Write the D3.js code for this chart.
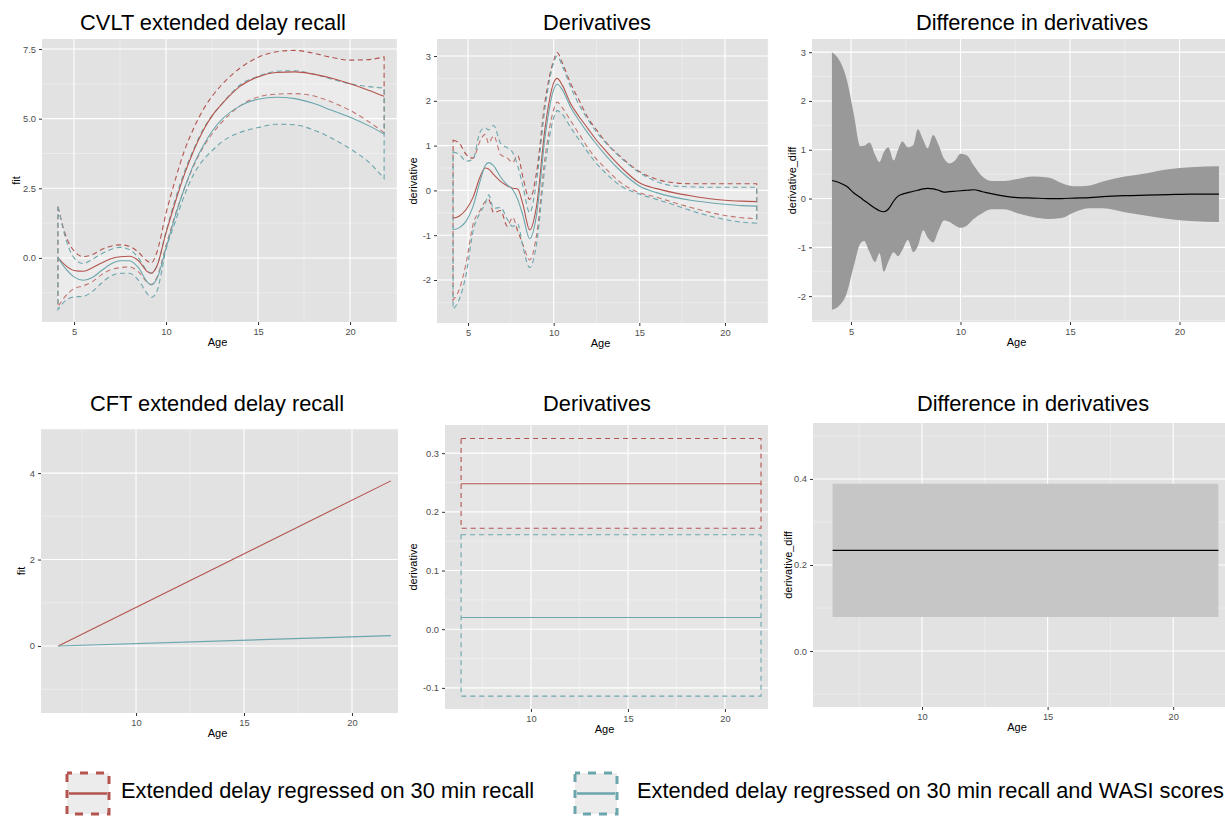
<!DOCTYPE html>
<html>
<head>
<meta charset="utf-8">
<script src="https://cdn.jsdelivr.net/npm/d3@7"></script>
<style>
  body { margin: 0; background: #fff; }
  text { font-family: "Liberation Sans", Arial, sans-serif; }
</style>
</head>
<body>
<script>
// ---- CVLT fit (top left) ----
var age1 = [4.13, 4.5, 5, 5.5, 6, 6.5, 7, 7.5, 8, 8.5, 9, 9.2, 9.5, 10, 10.5, 11, 11.5, 12, 12.5, 13, 14, 15, 16, 17, 18, 19, 20, 21, 21.85];
var fit1Red  = [0.0, -0.25, -0.45, -0.48, -0.35, -0.18, -0.03, 0.04, 0.06, -0.1, -0.5, -0.55, -0.3, 0.9, 2.0, 3.0, 3.85, 4.55, 5.1, 5.5, 6.15, 6.5, 6.66, 6.68, 6.6, 6.45, 6.25, 6.02, 5.8];
var up1Red   = [1.84, 0.9, 0.25, 0.05, 0.12, 0.3, 0.42, 0.47, 0.42, 0.2, -0.12, -0.18, 0.2, 1.6, 2.8, 3.85, 4.65, 5.3, 5.8, 6.2, 6.8, 7.2, 7.4, 7.45, 7.35, 7.2, 7.1, 7.12, 7.22];
var lo1Red   = [-1.75, -1.4, -1.1, -1.0, -0.85, -0.6, -0.42, -0.35, -0.32, -0.5, -0.88, -0.95, -0.7, 0.45, 1.55, 2.5, 3.3, 3.95, 4.45, 4.85, 5.45, 5.78, 5.88, 5.9, 5.82, 5.6, 5.3, 4.9, 4.5];
var fit1Teal = [0.0, -0.35, -0.68, -0.8, -0.7, -0.45, -0.22, -0.1, -0.1, -0.35, -0.88, -0.97, -0.75, 0.35, 1.5, 2.5, 3.35, 4.0, 4.55, 4.95, 5.45, 5.7, 5.77, 5.72, 5.55, 5.3, 5.05, 4.75, 4.45];
var up1Teal  = [1.84, 0.8, 0.0, -0.2, -0.05, 0.15, 0.3, 0.38, 0.3, 0.0, -0.48, -0.55, -0.3, 0.95, 2.1, 3.1, 3.9, 4.6, 5.1, 5.5, 6.2, 6.52, 6.7, 6.72, 6.6, 6.42, 6.25, 6.15, 6.1];
var lo1Teal  = [-1.85, -1.55, -1.4, -1.38, -1.2, -0.9, -0.65, -0.55, -0.55, -0.8, -1.3, -1.42, -1.2, 0.3, 1.3, 2.25, 3.0, 3.5, 3.85, 4.15, 4.5, 4.68, 4.8, 4.78, 4.6, 4.3, 3.92, 3.45, 2.85];

// ---- CVLT derivatives (top middle) ----
var age2 = [4.13, 4.5, 4.9, 5.3, 5.7, 6.0, 6.2, 6.5, 6.9, 7.3, 7.6, 7.9, 8.2, 8.6, 9.0, 9.5, 10.0, 10.2, 10.5, 11, 11.5, 12, 12.5, 13, 14, 15, 16, 17, 18, 19, 20, 21, 21.85];
var fit2Red  = [-0.62, -0.57, -0.42, -0.15, 0.3, 0.5, 0.48, 0.35, 0.2, 0.1, 0.05, 0.03, -0.3, -0.88, -0.35, 1.4, 2.4, 2.5, 2.35, 1.93, 1.64, 1.38, 1.12, 0.9, 0.49, 0.17, 0.04, -0.05, -0.12, -0.18, -0.22, -0.24, -0.25];
var up2Red   = [1.12, 1.05, 0.8, 0.72, 1.1, 1.25, 1.05, 1.22, 0.8, 0.72, 0.62, 0.78, 0.3, -0.2, 0.4, 2.0, 2.9, 3.08, 2.85, 2.38, 2.0, 1.62, 1.35, 1.1, 0.72, 0.42, 0.25, 0.17, 0.15, 0.15, 0.15, 0.15, 0.15];
var lo2Red   = [-2.45, -2.2, -1.6, -0.75, -0.45, -0.25, -0.2, -0.5, -0.45, -0.8, -0.6, -0.9, -1.2, -1.55, -1.0, 0.75, 1.8, 1.97, 1.85, 1.55, 1.25, 0.95, 0.7, 0.5, 0.15, -0.05, -0.15, -0.27, -0.38, -0.48, -0.56, -0.61, -0.63];
var fit2Teal = [-0.88, -0.83, -0.68, -0.35, 0.2, 0.55, 0.62, 0.55, 0.3, 0.12, 0.02, -0.2, -0.55, -1.08, -0.55, 1.2, 2.25, 2.37, 2.25, 1.85, 1.55, 1.28, 1.03, 0.8, 0.4, 0.1, -0.05, -0.15, -0.22, -0.27, -0.31, -0.34, -0.35];
var up2Teal  = [0.86, 0.8, 0.65, 0.7, 1.3, 1.4, 1.35, 1.45, 1.05, 0.95, 0.85, 0.55, 0.1, -0.5, 0.2, 1.85, 2.85, 3.0, 2.78, 2.3, 1.9, 1.58, 1.3, 1.08, 0.7, 0.4, 0.2, 0.1, 0.08, 0.07, 0.07, 0.07, 0.07];
var lo2Teal  = [-2.65, -2.42, -1.85, -0.9, -0.5, -0.3, -0.1, -0.4, -0.38, -0.65, -0.8, -0.75, -1.25, -1.72, -1.2, 0.55, 1.62, 1.78, 1.7, 1.4, 1.12, 0.85, 0.6, 0.4, 0.08, -0.08, -0.2, -0.32, -0.45, -0.56, -0.65, -0.71, -0.73];

// ---- CVLT difference in derivatives (top right) ----
var age3 = [4.13, 4.45, 4.8, 5.12, 5.43, 5.6, 5.85, 6.1, 6.3, 6.5, 6.7, 6.95, 7.15, 7.35, 7.6, 7.85, 8.05, 8.3, 8.5, 8.75, 9.0, 9.25, 9.5, 9.75, 10.0, 10.3, 10.6, 11.0, 11.4, 12.0, 12.6, 13.3, 14.0, 14.6, 15.2, 15.9, 16.5, 17.5, 18.5, 19.5, 20.5, 21.8];
var fit3 = [0.37, 0.33, 0.25, 0.12, 0.02, -0.04, -0.12, -0.2, -0.25, -0.27, -0.22, -0.05, 0.05, 0.09, 0.12, 0.15, 0.17, 0.2, 0.21, 0.2, 0.17, 0.13, 0.14, 0.15, 0.16, 0.17, 0.18, 0.14, 0.1, 0.05, 0.02, 0.01, 0.0, 0.0, 0.01, 0.02, 0.04, 0.06, 0.07, 0.08, 0.09, 0.09];
var up3  = [3.0, 2.85, 2.45, 1.75, 1.07, 1.08, 1.15, 0.9, 0.75, 0.95, 1.05, 0.78, 1.0, 1.17, 1.05, 1.1, 1.42, 1.2, 1.03, 1.3, 1.1, 0.82, 0.72, 0.78, 0.92, 0.88, 0.68, 0.45, 0.36, 0.36, 0.4, 0.45, 0.43, 0.32, 0.25, 0.27, 0.35, 0.45, 0.52, 0.6, 0.64, 0.66];
var lo3  = [-2.28, -2.2, -1.95, -1.4, -0.92, -0.87, -1.1, -1.3, -1.12, -1.5, -1.3, -1.1, -1.18, -1.05, -0.85, -1.1, -0.98, -0.65, -0.8, -0.9, -0.65, -0.45, -0.48, -0.55, -0.6, -0.55, -0.42, -0.3, -0.22, -0.22, -0.3, -0.38, -0.42, -0.4, -0.28, -0.2, -0.2, -0.28, -0.35, -0.42, -0.46, -0.48];

// ---- CFT (bottom row) ----
var age4 = [6.4, 21.8];
var fit4Red = [0.0, 3.82];
var fit4Teal = [0.0, 0.24];

var age5 = [6.4, 21.86];
var fit5Red = [0.248, 0.248], up5Red = [0.325, 0.325], lo5Red = [0.172, 0.172];
var fit5Teal = [0.02, 0.02], up5Teal = [0.161, 0.161], lo5Teal = [-0.114, -0.114];

var age6 = [6.44, 21.8];
var fit6 = [0.234, 0.234], up6 = [0.389, 0.389], lo6 = [0.079, 0.079];

var legendLabels = ["Extended delay regressed on 30 min recall", "Extended delay regressed on 30 min recall and WASI scores"];

var RED = "#b3544e", TEAL = "#6ba6ac";

var svg = d3.select("body").append("svg")
    .attr("width", 1225)
    .attr("height", 816);
svg.append("rect").attr("width", 1225).attr("height", 816).attr("fill", "#fff");

var clipCount = 0;

// midpoints between major breaks, kept inside the panel
function minorBreaks(ticks, dom) {
  var step = ticks[1] - ticks[0], out = [];
  for (var i = -1; i < ticks.length; i++) {
    var v = ticks[0] + (i + 0.5) * step;
    if (v > dom[0] && v < dom[1]) out.push(v);
  }
  return out;
}

function makePanel(p) {
  var g = svg.append("g");
  var x = d3.scaleLinear().domain(p.xd).range([p.l, p.r]);
  var y = d3.scaleLinear().domain(p.yd).range([p.b, p.t]);

  g.append("rect")
    .attr("x", p.l).attr("y", p.t)
    .attr("width", p.r - p.l).attr("height", p.b - p.t)
    .attr("fill", "#e2e2e2");

  // grid
  g.selectAll(null).data(minorBreaks(p.xTicks, p.xd)).enter().append("line")
    .attr("x1", x).attr("x2", x).attr("y1", p.t).attr("y2", p.b)
    .attr("stroke", "#f1f1f1").attr("stroke-width", 0.6);
  g.selectAll(null).data(minorBreaks(p.yTicks, p.yd)).enter().append("line")
    .attr("y1", y).attr("y2", y).attr("x1", p.l).attr("x2", p.r)
    .attr("stroke", "#f1f1f1").attr("stroke-width", 0.6);
  g.selectAll(null).data(p.xTicks).enter().append("line")
    .attr("x1", x).attr("x2", x).attr("y1", p.t).attr("y2", p.b)
    .attr("stroke", "#fff").attr("stroke-width", 1.1);
  g.selectAll(null).data(p.yTicks).enter().append("line")
    .attr("y1", y).attr("y2", y).attr("x1", p.l).attr("x2", p.r)
    .attr("stroke", "#fff").attr("stroke-width", 1.1);

  var id = "clip" + (clipCount++);
  svg.append("clipPath").attr("id", id).append("rect")
    .attr("x", p.l).attr("y", p.t)
    .attr("width", p.r - p.l).attr("height", p.b - p.t);
  var plot = g.append("g").attr("clip-path", "url(#" + id + ")");

  // axes
  var xa = g.append("g").attr("transform", "translate(0," + p.b + ")")
    .call(d3.axisBottom(x).tickValues(p.xTicks).tickFormat(function(d){ return String(d); })
      .tickSize(3).tickSizeOuter(0).tickPadding(3));
  var ya = g.append("g").attr("transform", "translate(" + p.l + ",0)")
    .call(d3.axisLeft(y).tickValues(p.yTicks).tickFormat(p.yf)
      .tickSize(3).tickSizeOuter(0).tickPadding(3));
  [xa, ya].forEach(function(a){
    a.select(".domain").remove();
    a.selectAll(".tick line").attr("stroke", "#333");
    a.selectAll(".tick text").attr("fill", "#4d4d4d").style("font-size", "9.3px")
      .style("font-family", '"Liberation Sans", Arial, sans-serif');
  });

  // titles
  g.append("text").attr("x", p.titleX).attr("y", p.titleY)
    .attr("text-anchor", "middle").style("font-size", "21.8px").attr("fill", "#000")
    .text(p.title);
  g.append("text").attr("x", (p.l + Math.min(p.r, 1225)) / 2 - 2).attr("y", p.b + 23.5)
    .attr("text-anchor", "middle").style("font-size", "11px").text("Age");
  g.append("text")
    .attr("transform", "translate(" + p.yLabX + "," + ((p.t + p.b) / 2) + ") rotate(-90)")
    .attr("dy", "0.35em").attr("text-anchor", "middle").style("font-size", "11px")
    .text(p.yLab);

  return { x: x, y: y, plot: plot };
}

function rows(ages, a, b, c) {
  return ages.map(function(age, i){ return { age: age, v: a[i], lo: b ? b[i] : null, hi: c ? c[i] : null }; });
}

function drawRibbon(P, ages, lo, hi, color, fill, fillOpacity, dash) {
  var area = d3.area().curve(d3.curveMonotoneX)
    .x(function(d){ return P.x(d.age); })
    .y0(function(d){ return P.y(d.lo); })
    .y1(function(d){ return P.y(d.hi); });
  P.plot.append("path").datum(rows(ages, hi, lo, hi))
    .attr("d", area)
    .attr("fill", fill).attr("fill-opacity", fillOpacity)
    .attr("stroke", color || "none").attr("stroke-width", 1.1)
    .attr("stroke-dasharray", dash || null);
}

function drawLine(P, ages, vals, color, w) {
  var line = d3.line().curve(d3.curveMonotoneX)
    .x(function(d){ return P.x(d.age); })
    .y(function(d){ return P.y(d.v); });
  P.plot.append("path").datum(rows(ages, vals))
    .attr("d", line).attr("fill", "none")
    .attr("stroke", color).attr("stroke-width", w || 1.1);
}

var fmt1 = function(d){ return d.toFixed(1); };
var fmtInt = function(d){ return String(d); };

// ---- top row ----
var P1 = makePanel({ l: 42, r: 397, t: 39, b: 322, xd: [3.26, 22.55], yd: [-2.30, 7.86],
  xTicks: [5, 10, 15, 20], yTicks: [0, 2.5, 5, 7.5], yf: fmt1,
  title: "CVLT extended delay recall", titleX: 213, titleY: 30, yLab: "fit", yLabX: 16 });
drawRibbon(P1, age1, lo1Red, up1Red, RED, "#fff", 0.2, "5,3.5");
drawRibbon(P1, age1, lo1Teal, up1Teal, TEAL, "#fff", 0.2, "5,3.5");
drawLine(P1, age1, fit1Red, RED);
drawLine(P1, age1, fit1Teal, TEAL);

var P2 = makePanel({ l: 437, r: 768, t: 39, b: 323, xd: [3.19, 22.51], yd: [-2.96, 3.38],
  xTicks: [5, 10, 15, 20], yTicks: [-2, -1, 0, 1, 2, 3], yf: fmtInt,
  title: "Derivatives", titleX: 597, titleY: 30, yLab: "derivative", yLabX: 413 });
drawRibbon(P2, age2, lo2Red, up2Red, RED, "#fff", 0.2, "5,3.5");
drawRibbon(P2, age2, lo2Teal, up2Teal, TEAL, "#fff", 0.2, "5,3.5");
drawLine(P2, age2, fit2Red, RED);
drawLine(P2, age2, fit2Teal, TEAL);

var P3 = makePanel({ l: 812, r: 1238, t: 39, b: 322, xd: [3.22, 22.67], yd: [-2.53, 3.27],
  xTicks: [5, 10, 15, 20], yTicks: [-2, -1, 0, 1, 2, 3], yf: fmtInt,
  title: "Difference in derivatives", titleX: 1032, titleY: 30, yLab: "derivative_diff", yLabX: 792 });
drawRibbon(P3, age3, lo3, up3, null, "#999999", 1, null);
drawLine(P3, age3, fit3, "#000", 1.2);

// ---- bottom row ----
var P4 = makePanel({ l: 41, r: 398, t: 429, b: 713, xd: [5.60, 22.13], yd: [-1.55, 5.02],
  xTicks: [10, 15, 20], yTicks: [0, 2, 4], yf: fmtInt,
  title: "CFT extended delay recall", titleX: 217, titleY: 410.5, yLab: "fit", yLabX: 21 });
drawLine(P4, age4, fit4Red, RED);
drawLine(P4, age4, fit4Teal, TEAL);

var P5 = makePanel({ l: 445, r: 768, t: 425, b: 709, xd: [5.57, 22.22], yd: [-0.136, 0.348],
  xTicks: [10, 15, 20], yTicks: [-0.1, 0, 0.1, 0.2, 0.3], yf: fmt1,
  title: "Derivatives", titleX: 597, titleY: 410.5, yLab: "derivative", yLabX: 413 });
drawRibbon(P5, age5, lo5Red, up5Red, RED, "#fff", 0.15, "5,4");
drawRibbon(P5, age5, lo5Teal, up5Teal, TEAL, "#fff", 0.15, "5,4");
drawLine(P5, age5, fit5Red, RED);
drawLine(P5, age5, fit5Teal, TEAL);

var P6 = makePanel({ l: 813, r: 1238, t: 423, b: 707, xd: [5.66, 22.58], yd: [-0.13, 0.53],
  xTicks: [10, 15, 20], yTicks: [0, 0.2, 0.4], yf: fmt1,
  title: "Difference in derivatives", titleX: 1033, titleY: 410.5, yLab: "derivative_diff", yLabX: 788 });
drawRibbon(P6, age6, lo6, up6, null, "#c6c6c6", 1, null);
drawLine(P6, age6, fit6, "#000", 1.2);

// ---- legend ----
var legendKeys = [{ x: 67, c: RED, tx: 121 }, { x: 575, c: TEAL, tx: 637 }];
legendKeys.forEach(function(k, i){
  svg.append("rect").attr("x", k.x).attr("y", 773).attr("width", 42).attr("height", 41)
    .attr("fill", "#ececec").attr("stroke", k.c).attr("stroke-width", 3)
    .attr("stroke-dasharray", "8,8").attr("stroke-dashoffset", 3);
  svg.append("line").attr("x1", k.x + 2).attr("x2", k.x + 40).attr("y1", 793.5).attr("y2", 793.5)
    .attr("stroke", k.c).attr("stroke-width", 2.6);
  svg.append("text").attr("x", k.tx).attr("y", 797.5).style("font-size", "21.8px")
    .attr("fill", "#000").text(legendLabels[i]);
});
</script>
</body>
</html>
